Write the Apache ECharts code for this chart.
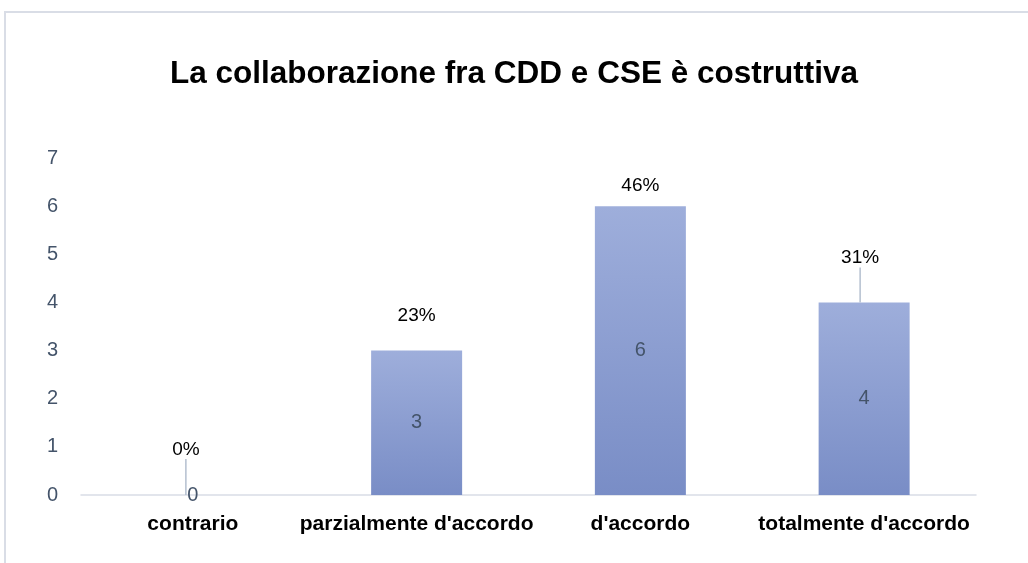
<!DOCTYPE html>
<html><head><meta charset="utf-8">
<script src="https://cdn.jsdelivr.net/npm/echarts@6/dist/echarts.min.js"></script>
<style>html,body{margin:0;padding:0;background:#fff}#c{width:1028px;height:563px}</style>
</head><body><div id="c"></div>
<script>
const categories = ['contrario', "parzialmente d'accordo", "d'accordo", "totalmente d'accordo"];
const counts = [0, 3, 6, 4];
const percentLabels = ['0%', '23%', '46%', '31%'];
const yTicks = [0, 1, 2, 3, 4, 5, 6, 7];

const FONT = "'Liberation Sans', Arial, sans-serif";
const chart = echarts.init(document.getElementById('c'), null, {renderer: 'canvas'});

const pctOffsets = [{dx: -7, dy: -31, line: true}, {dx: 0, dy: -20, line: false}, {dx: 0, dy: -6, line: false}, {dx: -4, dy: -30, line: true}];

chart.setOption({
  animation: false,
  backgroundColor: '#fff',
  title: {
    text: 'La collaborazione fra CDD e CSE è costruttiva',
    left: 'center', top: 53,
    textStyle: {fontFamily: FONT, fontWeight: 'bold', fontSize: 31.5, color: '#000'}
  },
  graphic: [{type: 'rect', shape: {x: 5, y: 12, width: 1040, height: 570}, style: {fill: 'none', stroke: '#d9dde6', lineWidth: 2}, silent: true}],
  grid: {left: 81, right: 52, top: 158, bottom: 68, containLabel: false},
  xAxis: {
    type: 'category', data: categories,
    axisLine: {lineStyle: {color: '#d9dde6', width: 1.5}},
    axisTick: {show: false},
    axisLabel: {interval: 0, fontFamily: FONT, fontWeight: 'bold', fontSize: 21, color: '#000', margin: 19}
  },
  yAxis: {
    type: 'value', min: yTicks[0], max: yTicks[yTicks.length - 1], interval: 1,
    axisLine: {show: false}, axisTick: {show: false}, splitLine: {show: false},
    axisLabel: {fontFamily: FONT, fontSize: 20, color: '#44546a', margin: 23}
  },
  series: [
    {
      type: 'bar', data: counts, barWidth: 91,
      itemStyle: {color: new echarts.graphic.LinearGradient(0, 0, 0, 1, [{offset: 0, color: '#9eaedb'}, {offset: 1, color: '#798dc6'}])},
      label: {show: true, position: 'inside', fontFamily: FONT, fontSize: 20, color: '#44546a'},
      z: 2
    },
    {
      type: 'bar', data: counts.map((v, i) => ({value: v, labelLine: {show: pctOffsets[i].line}})),
      barWidth: 91, barGap: '-100%',
      itemStyle: {color: 'rgba(0,0,0,0)'},
      label: {show: true, position: 'top', distance: 5, fontFamily: FONT, fontSize: 19, color: '#000',
        formatter: p => percentLabels[p.dataIndex]},
      labelLine: {show: true, lineStyle: {color: '#b4bfcf', width: 1.5}},
      labelLayout: p => ({dx: pctOffsets[p.dataIndex].dx, dy: pctOffsets[p.dataIndex].dy}),
      z: 3
    }
  ]
});
</script></body></html>
